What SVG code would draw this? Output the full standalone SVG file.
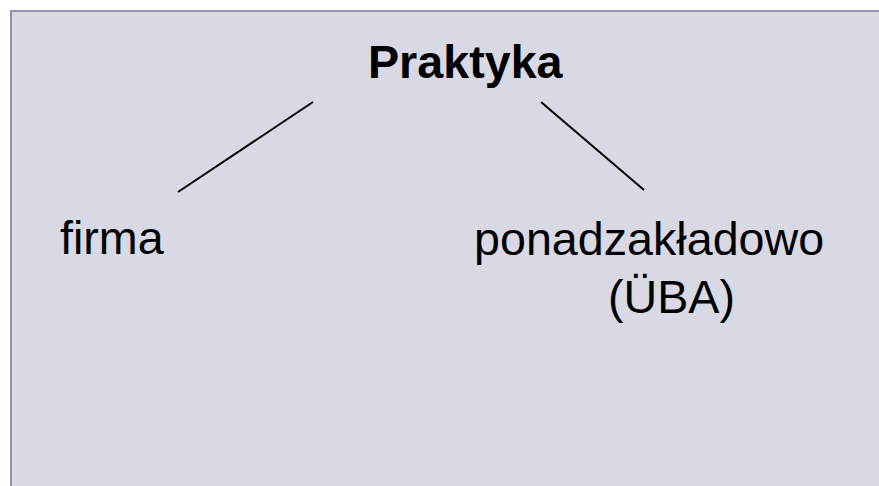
<svg xmlns="http://www.w3.org/2000/svg" width="879" height="486" viewBox="0 0 879 486">
<style>
.t{font-family:"Liberation Sans",Arial,sans-serif;font-size:46.67px;fill:#000}
.b{font-weight:bold}
.c{stroke:#000;stroke-width:2;fill:none}
</style>
<rect x="0" y="0" width="879" height="486" fill="#ffffff"/>
<rect id="panel" x="11" y="11" width="880" height="490" fill="#d9d9e5" stroke="#9192b2" stroke-width="2"/>
<g id="root"><text class="t b" x="368" y="78">Praktyka</text></g>
<g id="firma"><text class="t" x="60" y="254">firma</text></g>
<g id="ponad"><text class="t" x="474" y="255">ponadzakładowo</text><text class="t" x="608" y="313">(ÜBA)</text></g>
<g id="connectors">
<line class="c" x1="313" y1="102" x2="178" y2="192"/>
<line class="c" x1="541" y1="102" x2="644" y2="190"/>
</g>
</svg>
